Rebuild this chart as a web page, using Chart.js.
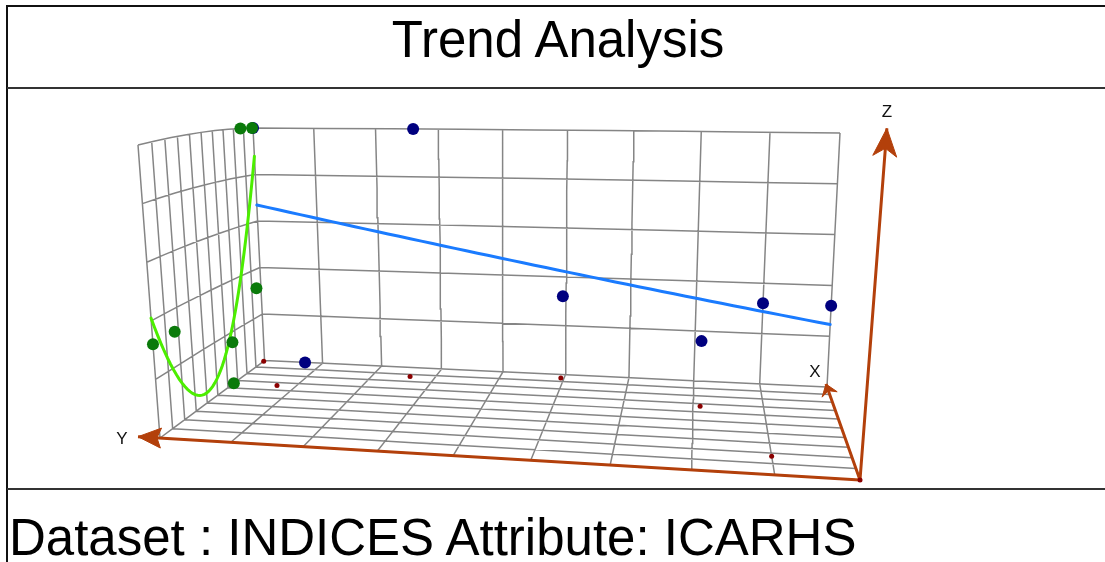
<!DOCTYPE html>
<html>
<head>
<meta charset="utf-8">
<script src="https://cdn.jsdelivr.net/npm/chart.js@4.4.0/dist/chart.umd.min.js"></script>
<style>
  html, body { margin: 0; padding: 0; background: #fff; overflow: hidden; }
  body { width: 1105px; height: 562px; position: relative; font-family: "Liberation Sans", Arial, sans-serif; }
  #frame { position: absolute; left: 6px; top: 5px; width: 1200px; height: 700px; border: 2px solid #111; }
  .rule { position: absolute; left: 7px; width: 1200px; height: 2px; background: #333; }
  #title { position: absolute; left: 0; top: 14px; width: 1116px; text-align: center; font-size: 51px; line-height: 51px; color: #000; }
  #subtitle { position: absolute; left: 9px; top: 512px; font-size: 51px; line-height: 51px; white-space: nowrap; color: #000; }
  .axlabel { position: absolute; font-size: 17px; line-height: 17px; transform: translate(-50%, -50%); color: #111; }
  canvas { position: absolute; left: 0; top: 0; }
</style>
</head>
<body>
<div id="frame"></div>
<div class="rule" style="top:87px"></div>
<div class="rule" style="top:488px"></div>
<div id="title">Trend Analysis</div>
<div id="subtitle">Dataset : INDICES Attribute: ICARHS</div>
<canvas id="chart" width="1105" height="562"></canvas>
<div class="axlabel" style="left:887px;top:111px">Z</div>
<div class="axlabel" style="left:815px;top:371px">X</div>
<div class="axlabel" style="left:122px;top:438px">Y</div>
<script>
// sample locations (X, Y) and attribute value (Z)
const xTicks = [0, 10, 20, 30, 40, 50, 60, 70, 80, 90, 100];
const yTicks = [0, 10, 20, 30, 40, 50, 60, 70, 80, 90];
const zTicks = [0, 20, 40, 60, 80, 100];
const sampleX = [87, 66, 95, 67, 17, 0, 99];
const sampleY = [64, 83, 40.5, 19, 10, 0, 90];
const sampleZ = [100, 0, 32, 16, 32, 32, 100];

const W = 1105, H = 562;
const brown = "#b3400b";

// camera: floor corners on screen, perspective factors, wall tops
const view = {
  origin: [860, 480],
  xEnd: [827, 387],
  yEnd: [160, 438],
  px: 0.265,
  py: 0.11,
  top00: [884, 166],
  top10: [840, 133],
  top01: [138, 145],
  top11: [253, 128],
};

const xMin = xTicks[0], xMax = xTicks[xTicks.length - 1];
const yMin = yTicks[0], yMax = yTicks[yTicks.length - 1];
const zMin = zTicks[0], zMax = zTicks[zTicks.length - 1];

function floorPt(u, v) {
  const A = view.origin;
  const ax = view.xEnd[0] * (1 + view.px), ay = view.xEnd[1] * (1 + view.px);
  const bx = view.yEnd[0] * (1 + view.py), by = view.yEnd[1] * (1 + view.py);
  const d = 1 + view.px * u + view.py * v;
  return [(A[0] + u * (ax - A[0]) + v * (bx - A[0])) / d,
          (A[1] + u * (ay - A[1]) + v * (by - A[1])) / d];
}

function sub(a, b) { return [a[0] - b[0], a[1] - b[1]]; }
const h00 = sub(view.top00, floorPt(0, 0));
const h10 = sub(view.top10, floorPt(1, 0));
const h01 = sub(view.top01, floorPt(0, 1));
const h11 = sub(view.top11, floorPt(1, 1));

function project(x, y, z) {
  const u = (x - xMin) / (xMax - xMin);
  const v = (y - yMin) / (yMax - yMin);
  const w = (z - zMin) / (zMax - zMin);
  const f = floorPt(u, v);
  const hx = (1 - u) * (1 - v) * h00[0] + u * (1 - v) * h10[0] + (1 - u) * v * h01[0] + u * v * h11[0];
  const hy = (1 - u) * (1 - v) * h00[1] + u * (1 - v) * h10[1] + (1 - u) * v * h01[1] + u * v * h11[1];
  return { x: f[0] + w * hx, y: f[1] + w * hy };
}

// 2nd order least squares trend
function polyFit2(xs, ys) {
  const s = [0, 0, 0, 0, 0], t = [0, 0, 0];
  xs.forEach((x, i) => {
    let p = 1;
    for (let k = 0; k < 5; k++) {
      s[k] += p;
      if (k < 3) t[k] += p * ys[i];
      p *= x;
    }
  });
  const m = [[s[0], s[1], s[2], t[0]], [s[1], s[2], s[3], t[1]], [s[2], s[3], s[4], t[2]]];
  for (let c = 0; c < 3; c++) {
    for (let r = c + 1; r < 3; r++) {
      const f = m[r][c] / m[c][c];
      for (let k = c; k < 4; k++) m[r][k] -= f * m[c][k];
    }
  }
  const coef = [0, 0, 0];
  for (let r = 2; r >= 0; r--) {
    let acc = m[r][3];
    for (let k = r + 1; k < 3; k++) acc -= m[r][k] * coef[k];
    coef[r] = acc / m[r][r];
  }
  return (x) => coef[0] + coef[1] * x + coef[2] * x * x;
}

// grid lines on floor and the two back walls
const gridPts = [];
function addLine(p, q) {
  const n = 8;
  for (let i = 0; i <= n; i++) {
    const t = i / n;
    gridPts.push(project(p[0] + (q[0] - p[0]) * t, p[1] + (q[1] - p[1]) * t, p[2] + (q[2] - p[2]) * t));
  }
  gridPts.push({ x: NaN, y: NaN });
}
xTicks.forEach((x) => {
  addLine([x, yMin, zMin], [x, yMax, zMin]);
  addLine([x, yMax, zMin], [x, yMax, zMax]);
});
yTicks.forEach((y) => {
  addLine([xMin, y, zMin], [xMax, y, zMin]);
  addLine([xMax, y, zMin], [xMax, y, zMax]);
});
zTicks.forEach((z) => {
  addLine([xMax, yMin, z], [xMax, yMax, z]);
  addLine([xMin, yMax, z], [xMax, yMax, z]);
});

// axes with arrow heads
const o = project(xMin, yMin, zMin);
const xTip = project(xMin + (xMax - xMin) * 1.04, yMin, zMin);
const yTip = project(xMin, yMin + (yMax - yMin) * 1.035, zMin);
const zTip = project(xMin, yMin, zMin + (zMax - zMin) * 1.12);
const axisPts = [o, xTip, { x: NaN, y: NaN }, o, yTip, { x: NaN, y: NaN }, o, zTip];

function arrowHead(tip, len, half, notch) {
  const dx = tip.x - o.x, dy = tip.y - o.y;
  const l = Math.hypot(dx, dy);
  const ux = dx / l, uy = dy / l;
  const bx = tip.x - ux * len, by = tip.y - uy * len;
  const nx = tip.x - ux * (len - notch), ny = tip.y - uy * (len - notch);
  return [tip, { x: bx - uy * half, y: by + ux * half }, { x: nx, y: ny },
          { x: bx + uy * half, y: by - ux * half }, tip];
}

const greenFit = polyFit2(sampleX, sampleZ);
const blueFit = polyFit2(sampleY, sampleZ);
const greenTrend = [], blueTrend = [];
for (let i = 0; i <= 50; i++) {
  const x = xMin + (xMax - xMin) * i / 50;
  greenTrend.push(project(x, yMax, greenFit(x)));
  const y = yMin + (yMax - yMin) * i / 50;
  blueTrend.push(project(xMax, y, blueFit(y)));
}

const greenPts = sampleX.map((x, i) => project(x, yMax, sampleZ[i]));
const bluePts = sampleY.map((y, i) => project(xMax, y, sampleZ[i]));
const floorPts = sampleX.map((x, i) => project(x, sampleY[i], zMin));

const lineBase = { showLine: true, pointRadius: 0, spanGaps: false, clip: false, tension: 0 };
const headBase = { ...lineBase, borderColor: brown, backgroundColor: brown, borderWidth: 1, fill: "shape", order: 4 };

new Chart(document.getElementById("chart"), {
  type: "scatter",
  data: {
    datasets: [
      { ...lineBase, data: gridPts, borderColor: "#858585", borderWidth: 1.5, order: 6 },
      { ...lineBase, data: axisPts, borderColor: brown, borderWidth: 3, order: 5 },
      { ...headBase, data: arrowHead(zTip, 28, 12, 8) },
      { ...headBase, data: arrowHead(yTip, 23, 10, 4) },
      { ...headBase, data: arrowHead(xTip, 11, 8, 4) },
      { ...lineBase, data: blueTrend, borderColor: "#1a7bff", borderWidth: 3, borderCapStyle: "round", order: 3 },
      { ...lineBase, data: greenTrend, borderColor: "#4cee00", borderWidth: 3, borderCapStyle: "round", order: 3 },
      { data: floorPts, pointRadius: 2.5, pointBorderWidth: 0, backgroundColor: "#8b0000", clip: false, order: 2 },
      { data: bluePts, pointRadius: 6, pointBorderWidth: 0, backgroundColor: "#00007f", clip: false, order: 1 },
      { data: greenPts, pointRadius: 6, pointBorderWidth: 0, backgroundColor: "#0a7a0a", clip: false, order: 0 },
    ],
  },
  options: {
    responsive: false,
    animation: false,
    events: [],
    layout: { autoPadding: false, padding: 0 },
    plugins: { legend: { display: false }, tooltip: { enabled: false }, title: { display: false } },
    scales: {
      x: { type: "linear", display: false, min: 0, max: W },
      y: { type: "linear", display: false, min: 0, max: H, reverse: true },
    },
  },
});
</script>
</body>
</html>
